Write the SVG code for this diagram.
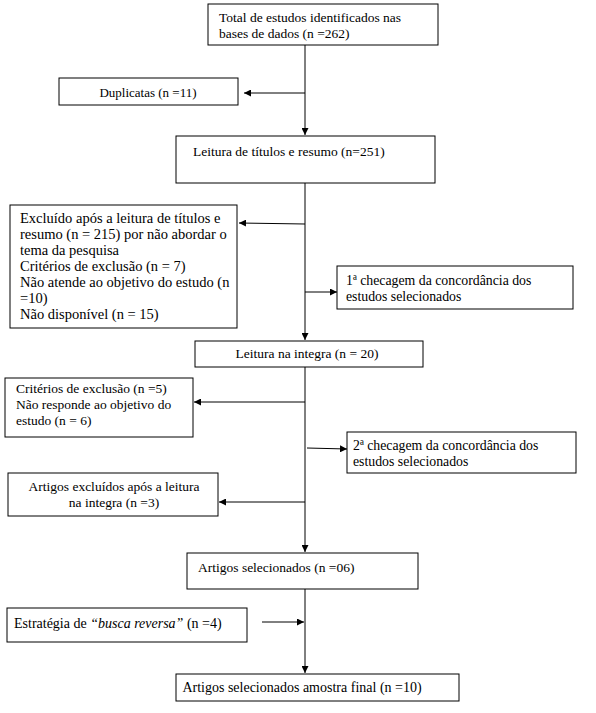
<svg xmlns="http://www.w3.org/2000/svg" width="596" height="713" viewBox="0 0 596 713">
<defs>
<marker id="ah" viewBox="0 0 10 10" refX="10" refY="5" markerWidth="7" markerHeight="7" markerUnits="userSpaceOnUse" orient="auto">
<path d="M0,0 L10,5 L0,10 z" fill="#000"/>
</marker>
<style>
rect{fill:#fff;stroke:#000;stroke-width:1}
.c{text-anchor:middle}
.l{fill:none;stroke:#000;stroke-width:1}
</style>
</defs>
<rect x="0" y="0" width="596" height="713" style="stroke:none"/>
<g id="connectors">
<line class="l" x1="305" y1="45" x2="305" y2="135" marker-end="url(#ah)"/>
<line class="l" x1="305" y1="93" x2="244" y2="93" marker-end="url(#ah)"/>
<line class="l" x1="305" y1="183" x2="305" y2="340" marker-end="url(#ah)"/>
<line class="l" x1="305" y1="224" x2="239" y2="223" marker-end="url(#ah)"/>
<line class="l" x1="305" y1="292" x2="337" y2="292" marker-end="url(#ah)"/>
<line class="l" x1="305" y1="367" x2="305" y2="552" marker-end="url(#ah)"/>
<line class="l" x1="305" y1="402" x2="194" y2="402" marker-end="url(#ah)"/>
<line class="l" x1="307" y1="448" x2="347" y2="449" marker-end="url(#ah)"/>
<line class="l" x1="305" y1="502" x2="219" y2="502" marker-end="url(#ah)"/>
<line class="l" x1="305" y1="589" x2="305" y2="673" marker-end="url(#ah)"/>
<line class="l" x1="262" y1="622" x2="304" y2="622" marker-end="url(#ah)"/>
</g>
<g font-family="'Liberation Serif', 'Times New Roman', serif" font-size="13.5" fill="#000">
<g id="n1"><rect x="208" y="4" width="230" height="41"/><text x="219" y="22">Total de estudos identificados nas</text><text x="219" y="38">bases de dados (n =262)</text></g>
<g id="n2"><rect x="59" y="78" width="179" height="27"/><text class="c" x="148" y="97" font-size="13">Duplicatas (n =11)</text></g>
<g id="n3"><rect x="176" y="136" width="259" height="47"/><text x="193" y="156">Leitura de títulos e resumo (n=251)</text></g>
<g id="n4" font-size="14.5"><rect x="10" y="205" width="227" height="123"/>
<text x="20" y="223">Excluído após a leitura de títulos e</text>
<text x="20" y="239">resumo (n = 215) por não abordar o</text>
<text x="20" y="255">tema da pesquisa</text>
<text x="20" y="271">Critérios de exclusão (n = 7)</text>
<text x="20" y="287">Não atende ao objetivo do estudo (n</text>
<text x="20" y="303">=10)</text>
<text x="20" y="319">Não disponível (n = 15)</text>
</g>
<g id="n5" font-size="13.8"><rect x="337" y="266" width="236" height="43"/><text x="346" y="285">1ª checagem da concordância dos</text><text x="346" y="301">estudos selecionados</text></g>
<g id="n6"><rect x="195" y="341" width="228" height="26"/><text class="c" x="307" y="358">Leitura na integra (n = 20)</text></g>
<g id="n7"><rect x="5" y="378" width="188" height="59"/><text x="16" y="393">Critérios de exclusão (n =5)</text><text x="16" y="409">Não responde ao objetivo do</text><text x="16" y="425">estudo (n = 6)</text></g>
<g id="n8" font-size="13.8"><rect x="347" y="432" width="229" height="41"/><text x="353" y="450">2ª checagem da concordância dos</text><text x="353" y="466">estudos selecionados</text></g>
<g id="n9"><rect x="8" y="473" width="210" height="43"/><text class="c" x="114" y="491">Artigos excluídos após a leitura</text><text class="c" x="114" y="507">na integra (n =3)</text></g>
<g id="n10"><rect x="187" y="553" width="231" height="36"/><text x="198" y="572">Artigos selecionados (n =06)</text></g>
<g id="n11"><rect x="7" y="608" width="240" height="34"/><text x="14" y="628" font-size="14">Estratégia de <tspan font-style="italic">“busca reversa”</tspan> (n =4)</text></g>
<g id="n12"><rect x="176" y="674" width="283" height="27"/><text class="c" x="302" y="692" font-size="14">Artigos selecionados amostra final (n =10)</text></g>
</g>
</svg>
